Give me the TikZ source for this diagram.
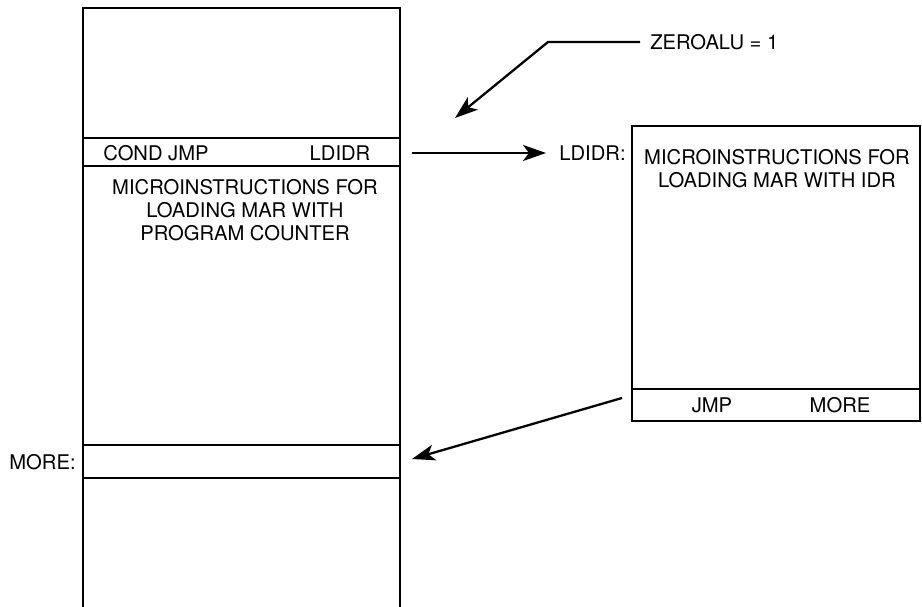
\documentclass[tikz,border=0pt]{standalone}
\usepackage{fontspec}
\setmainfont{TeX Gyre Heros}
\usetikzlibrary{arrows.meta}
\begin{document}
\begin{tikzpicture}[x=0.02cm,y=-0.02cm,every node/.style={align=center,font=\fontsize{11.5}{13.2}\selectfont,inner sep=0pt},
  memline/.style={line width=1.1pt},
  jumparrow/.style={line width=1.3pt,-{Stealth[length=0.46cm,width=0.32cm,inset=0.12cm]}}]
\useasboundingbox (0,0) rectangle (922,607);
% left control store
\draw[memline] (83,607) -- (83,8) -- (400,8) -- (400,607);
\draw[memline] (83,138) -- (400,138) (83,166) -- (400,166);
\draw[memline] (83,445) -- (400,445) (83,478) -- (400,478);
\node (cj) at (156,153) {COND JMP};
\node (ld) at (340,153) {LDIDR};
\node (pc) at (245,210) {MICROINSTRUCTIONS FOR\\LOADING MAR WITH\\PROGRAM COUNTER};
\node[anchor=east] (more) at (76,462) {MORE:};
% right routine
\draw[memline] (632,126) rectangle (920,421);
\draw[memline] (632,389) -- (920,389);
\node (idr) at (777,169) {MICROINSTRUCTIONS FOR\\LOADING MAR WITH IDR};
\node (jmp) at (712,405) {JMP};
\node (mr) at (840,405) {MORE};
\node[anchor=east] (lab) at (626,153) {LDIDR:};
\node[anchor=west] (zero) at (650,42) {ZEROALU = 1};
% arrows
\coordinate (a1) at (412,153);
\coordinate (a2) at (546,153);
\coordinate (z1) at (640,42);
\coordinate (z2) at (548,42);
\coordinate (z3) at (455,118);
\coordinate (b1) at (622,398);
\coordinate (b2) at (412,459);
\draw[jumparrow] (a1) -- (a2);
\draw[jumparrow] (z1) -- (z2) -- (z3);
\draw[jumparrow] (b1) -- (b2);
\end{tikzpicture}
\end{document}
